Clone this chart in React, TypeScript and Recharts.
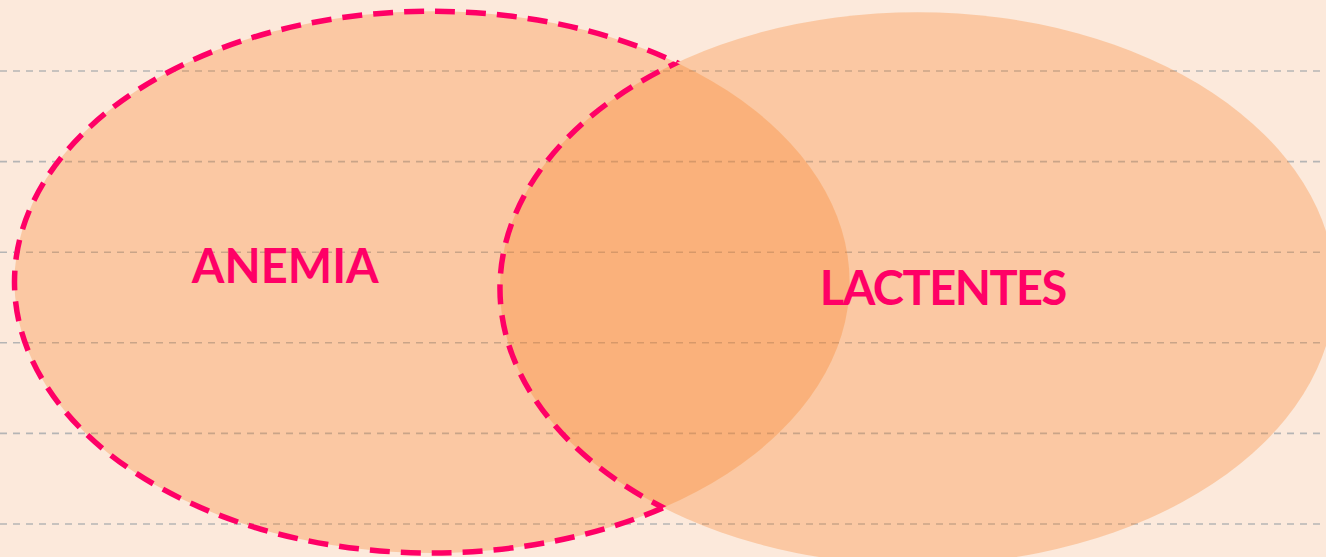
import { type FC } from "react"
import { CartesianGrid, Scatter, ScatterChart, XAxis, YAxis } from "recharts"

// two sets of the diagram, in grid units (one unit = distance between grid lines)
const setNames = ["ANEMIA", "LACTENTES"]
const setCenterX = [4.77, 10.13]
const setCenterY = [2.67, 2.6]
const setRadiusX = [4.61, 4.61]
const setRadiusY = [2.99, 3.05]
const labelX = [3.15, 10.41]
const labelY = [2.85, 2.6]
const highlighted = "ANEMIA"
const gridTicks = [0, 1, 2, 3, 4, 5]

const W = 1326
const H = 557
const X_DOMAIN: [number, number] = [0, 14.64]
const Y_DOMAIN: [number, number] = [-0.364, 5.784]
const KX = W / (X_DOMAIN[1] - X_DOMAIN[0])
const KY = H / (Y_DOMAIN[1] - Y_DOMAIN[0])

const PINK = "#FF0066"
const ORANGE = "#F97E20"
const labelTracking: Record<string, number> = { ANEMIA: 0, LACTENTES: -1.5 }

const sets = setNames.map((name, i) => ({
  name,
  x: setCenterX[i],
  y: setCenterY[i],
}))
const labels = setNames.map((name, i) => ({ name, x: labelX[i], y: labelY[i] }))
const outline = sets.filter((s) => s.name === highlighted)

const FillShape = (props: any) => {
  const { cx, cy, payload } = props
  const i = setNames.indexOf(payload.name)
  return (
    <ellipse
      cx={cx}
      cy={cy}
      rx={setRadiusX[i] * KX}
      ry={setRadiusY[i] * KY}
      fill={ORANGE}
      fillOpacity={0.3}
    />
  )
}

// dashed border of the "only this set" region
const OutlineShape = (props: any) => {
  const { cx, cy, payload } = props
  const i = setNames.indexOf(payload.name)
  const j = 1 - i
  const rx = setRadiusX[i] * KX
  const ry = setRadiusY[i] * KY
  const ox = cx + (setCenterX[j] - setCenterX[i]) * KX
  const oy = cy - (setCenterY[j] - setCenterY[i]) * KY
  const orx = setRadiusX[j] * KX
  const ory = setRadiusY[j] * KY
  const dash = { stroke: PINK, strokeWidth: 5.5, strokeDasharray: "20 11", fill: "none" }
  return (
    <g>
      <defs>
        <mask id="outsideOther" maskUnits="userSpaceOnUse" x={0} y={0} width={W} height={H}>
          <rect x={0} y={0} width={W} height={H} fill="white" />
          <ellipse cx={ox} cy={oy} rx={orx} ry={ory} fill="black" />
        </mask>
        <clipPath id="insideSelf">
          <ellipse cx={cx} cy={cy} rx={rx} ry={ry} />
        </clipPath>
      </defs>
      <ellipse cx={cx} cy={cy} rx={rx} ry={ry} {...dash} mask="url(#outsideOther)" />
      <ellipse cx={ox} cy={oy} rx={orx} ry={ory} {...dash} clipPath="url(#insideSelf)" />
    </g>
  )
}

const LabelShape = (props: any) => {
  const { cx, cy, payload } = props
  return (
    <text
      x={cx}
      y={cy}
      dy="0.36em"
      textAnchor="middle"
      fill={PINK}
      fontFamily="Lato, 'Open Sans', sans-serif"
      fontWeight={700}
      fontSize={47}
      letterSpacing={labelTracking[payload.name] ?? 0}
    >
      {payload.name}
    </text>
  )
}

// grid lines only at the listed ticks (no extra lines at the plot edges)
const gridRows = ({ offset }: any) => {
  const top = offset?.top ?? 0
  const h = offset?.height ?? H
  return gridTicks.map(
    (t) => top + ((Y_DOMAIN[1] - t) / (Y_DOMAIN[1] - Y_DOMAIN[0])) * h,
  )
}

const App: FC = () => {
  return (
    <div
      style={{
        position: "absolute",
        left: 0,
        top: 0,
        width: W,
        height: H,
        background: "#FCE9DB",
      }}
    >
      <ScatterChart width={W} height={H} margin={{ top: 0, right: 0, bottom: 0, left: 0 }}>
        <CartesianGrid
          vertical={false}
          stroke="#B5B5B5"
          strokeWidth={1.6}
          strokeDasharray="7 6"
          horizontalCoordinatesGenerator={gridRows}
        />
        <XAxis type="number" dataKey="x" domain={X_DOMAIN} hide allowDataOverflow />
        <YAxis
          type="number"
          dataKey="y"
          domain={Y_DOMAIN}
          ticks={gridTicks}
          hide
          allowDataOverflow
        />
        <Scatter data={sets} shape={FillShape} isAnimationActive={false} />
        <Scatter data={outline} shape={OutlineShape} isAnimationActive={false} />
        <Scatter data={labels} shape={LabelShape} isAnimationActive={false} />
      </ScatterChart>
    </div>
  )
}

export default App
